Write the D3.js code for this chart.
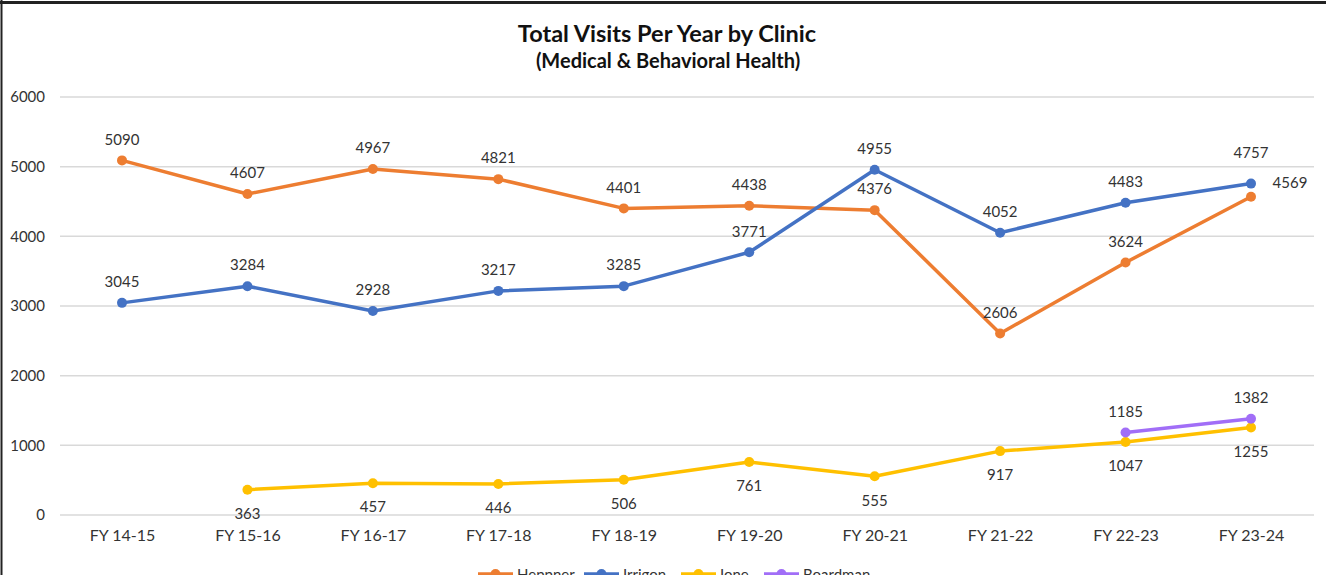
<!DOCTYPE html>
<html>
<head>
<meta charset="utf-8">
<script src="https://cdn.jsdelivr.net/npm/d3@7"></script>
<style>
  body { margin: 0; background: #fff; }
  svg { display: block; font-family: Lato, "Open Sans", sans-serif; }
</style>
</head>
<body>
<svg id="chart" width="1326" height="575"></svg>
<script>
// chart data
const years = ["FY 14-15", "FY 15-16", "FY 16-17", "FY 17-18", "FY 18-19",
               "FY 19-20", "FY 20-21", "FY 21-22", "FY 22-23", "FY 23-24"];
const heppner  = [5090, 4607, 4967, 4821, 4401, 4438, 4376, 2606, 3624, 4569];
const irrigon  = [3045, 3284, 2928, 3217, 3285, 3771, 4955, 4052, 4483, 4757];
const ione     = [null, 363, 457, 446, 506, 761, 555, 917, 1047, 1255];
const boardman = [null, null, null, null, null, null, null, null, 1185, 1382];
const yTicks = [0, 1000, 2000, 3000, 4000, 5000, 6000];

const series = [
  { name: "Heppner",  values: heppner,  color: "#ED7D31", labelPos: "above" },
  { name: "Irrigon",  values: irrigon,  color: "#4472C4", labelPos: "above" },
  { name: "Ione",     values: ione,     color: "#FFC000", labelPos: "below" },
  { name: "Boardman", values: boardman, color: "#A16EF7", labelPos: "above" }
];

// a couple of labels were nudged by hand in the original
const labelNudge = {
  "Heppner-9": { dx: 39, dy: -14 },
  "Irrigon-9": { dx: 0, dy: -31 }
};

const svg = d3.select("#chart");
const width = 1326, height = 575;

// frame (top and left edges visible)
svg.append("line").attr("x1", 0).attr("x2", width).attr("y1", 2.5).attr("y2", 2.5)
  .attr("stroke", "#222").attr("stroke-width", 3);
svg.append("line").attr("x1", 1.5).attr("x2", 1.5).attr("y1", 0).attr("y2", height)
  .attr("stroke", "#222").attr("stroke-width", 2);

const x = d3.scalePoint()
  .domain(years)
  .range([122, 1251]);

const y = d3.scaleLinear()
  .domain([0, 6000])
  .range([515, 97]);

// gridlines
svg.append("g")
  .selectAll("line")
  .data(yTicks)
  .enter().append("line")
  .attr("x1", 60).attr("x2", 1314)
  .attr("y1", d => y(d)).attr("y2", d => y(d))
  .attr("stroke", "#d9d9d9")
  .attr("stroke-width", 1.5);

// y axis labels
const yAxis = d3.axisLeft(y).tickValues(yTicks).tickFormat(d3.format("d")).tickSize(0).tickPadding(0);
svg.append("g")
  .attr("transform", "translate(45,0)")
  .call(yAxis)
  .call(g => g.select(".domain").remove())
  .selectAll("text")
  .attr("font-size", 15)
  .attr("font-family", "Lato, sans-serif")
  .attr("fill", "#333");

// x axis labels
const xAxis = d3.axisBottom(x).tickSize(0).tickPadding(0);
svg.append("g")
  .attr("transform", "translate(0,530)")
  .call(xAxis)
  .call(g => g.select(".domain").remove())
  .selectAll("text")
  .attr("font-size", 16)
  .attr("font-family", "Lato, sans-serif")
  .attr("fill", "#333");

// title
svg.append("text")
  .attr("x", 667).attr("y", 42)
  .attr("text-anchor", "middle")
  .attr("font-size", 23.5).attr("font-weight", "bold")
  .attr("fill", "#111")
  .text("Total Visits Per Year by Clinic");
svg.append("text")
  .attr("x", 668).attr("y", 68)
  .attr("text-anchor", "middle")
  .attr("font-size", 20).attr("font-weight", "bold")
  .attr("fill", "#111")
  .text("(Medical & Behavioral Health)");

const line = d3.line()
  .defined(d => d.v != null)
  .x(d => x(d.year))
  .y(d => y(d.v));

series.forEach(s => {
  const pts = s.values.map((v, i) => ({ year: years[i], v: v, i: i }));
  const g = svg.append("g");

  g.append("path")
    .datum(pts)
    .attr("d", line)
    .attr("fill", "none")
    .attr("stroke", s.color)
    .attr("stroke-width", 3.5)
    .attr("stroke-linejoin", "round");

  g.selectAll("circle")
    .data(pts.filter(d => d.v != null))
    .enter().append("circle")
    .attr("cx", d => x(d.year))
    .attr("cy", d => y(d.v))
    .attr("r", 5)
    .attr("fill", s.color);
});

// data labels on top of everything
series.forEach(s => {
  const pts = s.values.map((v, i) => ({ year: years[i], v: v, i: i }))
    .filter(d => d.v != null);
  svg.append("g")
    .selectAll("text")
    .data(pts)
    .enter().append("text")
    .attr("x", d => x(d.year) + ((labelNudge[s.name + "-" + d.i] || {}).dx || 0))
    .attr("y", d => {
      const n = labelNudge[s.name + "-" + d.i];
      if (n) return y(d.v) + n.dy;
      return y(d.v) + (s.labelPos === "above" ? -21 : 24);
    })
    .attr("dy", "0.35em")
    .attr("text-anchor", "middle")
    .attr("font-size", 15)
    .attr("fill", "#333")
    .text(d => d.v);
});

// legend (cut off at the bottom edge like the original)
const legendX = [478, 584, 681, 764];
const legend = svg.append("g");
series.forEach((s, i) => {
  const lg = legend.append("g").attr("transform", "translate(" + legendX[i] + ",574)");
  lg.append("line").attr("x1", 0).attr("x2", 35).attr("y1", 0).attr("y2", 0)
    .attr("stroke", s.color).attr("stroke-width", 3.5);
  lg.append("circle").attr("cx", 17.5).attr("cy", 0).attr("r", 5).attr("fill", s.color);
  lg.append("text").attr("x", 39).attr("y", 6)
    .attr("font-size", 15).attr("fill", "#333")
    .text(s.name);
});
</script>
</body>
</html>
